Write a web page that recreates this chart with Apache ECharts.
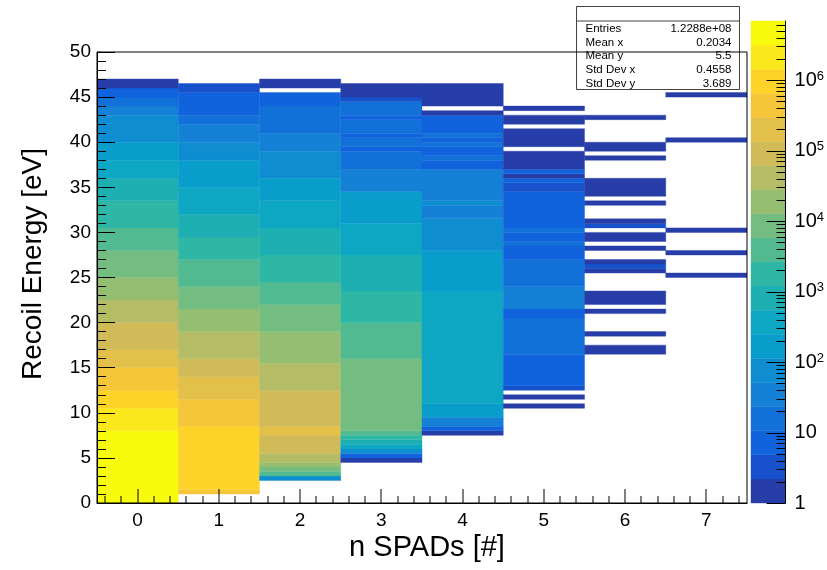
<!DOCTYPE html>
<html>
<head>
<meta charset="utf-8">
<script src="https://cdn.jsdelivr.net/npm/echarts@6/dist/echarts.min.js"></script>
<style>
html,body{margin:0;padding:0;background:#fff;}
#chart{width:827px;height:570px;}
</style>
</head>
<body>
<div id="chart"></div>
<script>
// ---- data: nSPADs bins and, per bin, runs of [E low, E high, counts] ----
const nSpads = [0, 1, 2, 3, 4, 5, 6, 7];
const col0 = [[0,8,4670000],[8,10.5,2120000],[10.5,12.5,966000],[12.5,15,440000],[15,17,200000],[17,20,91000],[20,22.5,41400],[22.5,25,18800],[25,28,8570],[28,30.5,3900],[30.5,33.5,1770],[33.5,36,807],[36,38,367],[38,40,167],[40,43,76],[43,44,35],[44,45,16],[45,46,7],[46,47,1]];
const col1 = [[1,1.5,440000],[1.5,8.5,966000],[8.5,11.5,440000],[11.5,14,200000],[14,16,91000],[16,19,41400],[19,21.5,18800],[21.5,24,8570],[24,27,3900],[27,29.5,1770],[29.5,32,807],[32,35,367],[35,38,167],[38,40,76],[40,42,35],[42,43,16],[43,45.5,7],[45.5,46.5,3]];
const col2 = [[2.5,3,76],[3,3.5,3900],[3.5,4,8570],[4,4.5,18800],[4.5,5.5,41400],[5.5,7.5,91000],[7.5,8.5,200000],[8.5,12.5,91000],[12.5,15.5,41400],[15.5,19,18800],[19,22,8570],[22,24.5,3900],[24.5,27.5,1770],[27.5,30.5,807],[30.5,33.5,367],[33.5,36,167],[36,39,76],[39,41,35],[41,44,16],[44,45.5,7],[46,47,1]];
const col3 = [[4.5,5,1],[5,5.5,7],[5.5,6,76],[6,6.5,367],[6.5,7,807],[7,7.5,1770],[7.5,8,3900],[8,16,8570],[16,20,3900],[20,23.5,1770],[23.5,27.5,807],[27.5,31,367],[31,34.5,167],[34.5,37,35],[37,39,16],[39,39.5,7],[39.5,40.5,16],[40.5,41,7],[41,42.5,16],[42.5,43,7],[43,44.5,16],[44.5,45,3],[45,46.5,1]];
const col4 = [[7.5,8,1],[8,8.5,7],[8.5,9.5,35],[9.5,11,167],[11,23.5,367],[23.5,28,167],[28,31.5,76],[31.5,33,35],[33,33.5,76],[33.5,37,35],[37,38,7],[38,38.5,16],[38.5,39.5,7],[39.5,40,16],[40,40.5,7],[40.5,41,16],[41,43,7],[43,43.5,1],[44,46.5,1]];
const col5 = [[10.5,11,1],[11.5,12,1],[12.5,13,3],[13,16.5,7],[16.5,20.5,16],[20.5,21.5,7],[21.5,24,35],[24,27,16],[27,28.5,7],[28.5,29,16],[29,30,7],[30,30.5,16],[30.5,34.5,7],[34.5,35.5,3],[35.5,36,7],[36,36.5,1],[36.5,37,7],[37,39,1],[39.5,41.5,1],[42,43,1],[43.5,44,1]];
const col6 = [[16.5,17.5,1],[18.5,19,1],[21,21.5,1],[22,23.5,1],[25.5,26,1],[26,26.5,3],[26.5,27,1],[28,28.5,1],[29,30,1],[30.5,31,3],[31,31.5,1],[33,33.5,1],[34,36,1],[38,38.5,1],[39,40,1],[42.5,43,1]];
const col7 = [[25,25.5,1],[27.5,28,1],[30,30.5,1],[40,40.5,1],[45,45.5,1]];
const columns = [col0, col1, col2, col3, col4, col5, col6, col7];

const yTicks = [0, 5, 10, 15, 20, 25, 30, 35, 40, 45, 50];
const zDecades = [0, 1, 2, 3, 4, 5, 6];           // colour-axis labels: 1 ... 10^6
const zMin = 1, zMax = 6.87e6, nLevels = 20;
const stats = [["Entries","1.2288e+08"],["Mean x","0.2034"],["Mean y","5.5"],["Std Dev x","0.4558"],["Std Dev y","3.689"]];

// ---- ROOT kBird palette ----
const stops = [0,0.125,0.25,0.375,0.5,0.625,0.75,0.875,1];
const R = [0.2082,0.0592,0.0780,0.0232,0.1802,0.5301,0.8186,0.9956,0.9764];
const G = [0.1664,0.3599,0.5041,0.6419,0.7178,0.7492,0.7328,0.7862,0.9832];
const B = [0.5293,0.8684,0.8385,0.7914,0.6425,0.4662,0.3499,0.1968,0.0539];
function bird(f){
  let i = 0; while (i < stops.length-2 && f > stops[i+1]) i++;
  const t = (f - stops[i])/(stops[i+1]-stops[i]);
  const c = a => Math.round(255*(a[i] + t*(a[i+1]-a[i])));
  return 'rgb(' + c(R) + ',' + c(G) + ',' + c(B) + ')';
}
const lMin = Math.log10(zMin), lMax = Math.log10(zMax), lStep = (lMax - lMin)/nLevels;
function levelColor(L){
  const idx = Math.floor((L + 0.99) * 255 / nLevels);
  return bird(Math.min(idx, 254)/254);
}
function countColor(c){
  let L = Math.floor((Math.log10(c) - lMin)/lStep);
  L = Math.max(0, Math.min(nLevels-1, L));
  return levelColor(L);
}

const cells = [];
columns.forEach((col, i) => col.forEach(s => cells.push([nSpads[i], s[0], s[1], s[2]])));
const bands = [];
for (let i = 0; i < nLevels; i++) bands.push([0, lMin + i*lStep, lMin + (i+1)*lStep, i]);

// tick marks: [position, length]
const xTickMarks = nSpads.map(v => [v, 14]);
for (let k = -2; k <= 37; k++) { const v = k*0.2; if (Math.abs(v - Math.round(v)) > 1e-6) xTickMarks.push([+v.toFixed(1), 7]); }
const zTickMarks = zDecades.map(d => [d, 19]);
zDecades.forEach(d => { for (let m = 2; m <= 9; m++) { const v = d + Math.log10(m); if (v < lMax) zTickMarks.push([v, 9]); } });

const FONT = '"Liberation Sans", Arial, Helvetica, sans-serif';
const chart = echarts.init(document.getElementById('chart'), null, {renderer: 'canvas'});

function rectItem(p0, p1, col){
  return {type: 'rect', shape: {x: p0[0], y: p0[1], width: p1[0] - p0[0], height: p1[1] - p0[1]},
          style: {fill: col, stroke: col, lineWidth: 0.4}};
}

chart.setOption({
  animation: false,
  backgroundColor: '#fff',
  textStyle: {fontFamily: FONT},
  grid: [
    {left: 97, top: 52, width: 650, height: 451, show: true, borderColor: '#000', borderWidth: 1, backgroundColor: 'transparent', z: 12},
    {left: 751, top: 21, width: 36, height: 482, show: false}
  ],
  xAxis: [
    {gridIndex: 0, type: 'value', min: -0.5, max: 7.5, position: 'bottom', z: 10,
     axisLine: {show: true, onZero: false, lineStyle: {color: '#000', width: 1}},
     axisTick: {show: false},
     axisLabel: {show: true, customValues: nSpads, color: '#000', fontSize: 19, margin: 8, fontFamily: FONT},
     splitLine: {show: false}},
    {gridIndex: 1, type: 'value', min: 0, max: 1, show: false}
  ],
  yAxis: [
    {gridIndex: 0, type: 'value', min: 0, max: 50, interval: 5, position: 'left', z: 10,
     axisLine: {show: true, onZero: false, lineStyle: {color: '#000', width: 1}},
     axisTick: {show: true, inside: true, length: 18, lineStyle: {color: '#000'}},
     minorTick: {show: true, splitNumber: 5, length: 9, lineStyle: {color: '#000'}},
     axisLabel: {show: true, color: '#000', fontSize: 19, margin: 6, fontFamily: FONT},
     splitLine: {show: false}},
    {gridIndex: 1, type: 'value', min: lMin, max: lMax, position: 'right', z: 10,
     axisLine: {show: true, onZero: false, lineStyle: {color: '#000', width: 1}},
     axisTick: {show: false},
     axisLabel: {show: true, customValues: zDecades, margin: 9, color: '#000', fontFamily: FONT,
       formatter: v => v === 0 ? '1' : (v === 1 ? '10' : '10{sup|' + v + '}'),
       fontSize: 20,
       rich: {sup: {fontSize: 13, verticalAlign: 'top', color: '#000', fontFamily: FONT, padding: [0, 0, 8, 0]}}},
     splitLine: {show: false}}
  ],
  series: [
    {type: 'custom', xAxisIndex: 0, yAxisIndex: 0, clip: true, z: 1,
     encode: {x: 0, y: [1, 2]},
     data: cells,
     renderItem: (params, api) => {
       const x = api.value(0);
       return rectItem(api.coord([x - 0.5, api.value(2)]), api.coord([x + 0.5, api.value(1)]), countColor(api.value(3)));
     }},
    {type: 'custom', xAxisIndex: 1, yAxisIndex: 1, z: 1,
     encode: {x: 0, y: [1, 2]},
     data: bands,
     renderItem: (params, api) => rectItem(api.coord([0, api.value(2)]), api.coord([1, api.value(1)]), levelColor(api.value(3)))},
    {type: 'custom', xAxisIndex: 0, yAxisIndex: 0, z: 20, clip: false, silent: true,
     encode: {x: 0},
     data: xTickMarks,
     renderItem: (params, api) => {
       const p = api.coord([api.value(0), 0]);
       const len = api.value(1);
       return {type: 'rect', shape: {x: Math.round(p[0]) - 0.5, y: p[1] - len, width: 1, height: len},
               style: {fill: '#000'}, z2: 100};
     }}
  ]
});

// overlay: titles, statistics box and colour-axis ticks (positions taken from the colour axis scale)
const cbRight = chart.convertToPixel({xAxisIndex: 1}, 1);
const graphics = [
  {type: 'text', x: 33, y: 264, rotation: Math.PI/2, z: 20,
   style: {text: 'Recoil Energy [eV]', fontSize: 28, fontFamily: FONT, fill: '#000', align: 'center', verticalAlign: 'middle'}},
  {type: 'text', x: 427, y: 548, z: 20,
   style: {text: 'n SPADs [#]', fontSize: 29, fontFamily: FONT, fill: '#000', align: 'center', verticalAlign: 'middle'}},
  {type: 'group', left: 574, top: 6, z: 100, children: [
    {type: 'rect', shape: {x: 0, y: 0, width: 163, height: 83}, style: {fill: '#fff', stroke: '#444', lineWidth: 1}},
    {type: 'line', shape: {x1: 0, y1: 14.5, x2: 163, y2: 14.5}, style: {stroke: '#444', lineWidth: 1}}
  ].concat(stats.map((r, i) => ({type: 'text', x: 9, y: 22.5 + i*13.6,
      style: {text: r[0], fontSize: 11.5, fontFamily: FONT, fill: '#000', verticalAlign: 'middle', align: 'left'}})))
   .concat(stats.map((r, i) => ({type: 'text', x: 155, y: 22.5 + i*13.6,
      style: {text: r[1], fontSize: 11.5, fontFamily: FONT, fill: '#000', verticalAlign: 'middle', align: 'right'}})))
  }
];
zTickMarks.forEach(t => {
  const py = Math.round(chart.convertToPixel({yAxisIndex: 1}, t[0])) + 0.5;
  graphics.push({type: 'line', z: 50, silent: true,
    shape: {x1: cbRight - t[1], y1: py, x2: cbRight, y2: py},
    style: {stroke: '#000', lineWidth: 1}});
});
chart.setOption({graphic: graphics});
</script>
</body>
</html>
